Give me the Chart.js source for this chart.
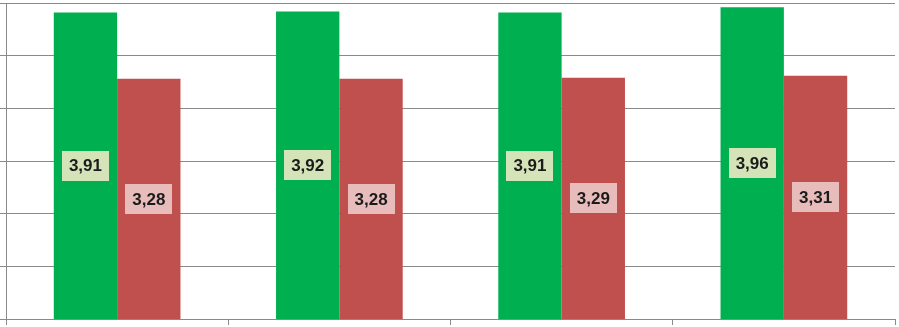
<!DOCTYPE html>
<html>
<head>
<meta charset="utf-8">
<script src="https://cdn.jsdelivr.net/npm/chart.js@4.4.1/dist/chart.umd.min.js"></script>
<style>
  html, body { margin: 0; padding: 0; background: #fff; }
  #wrap { width: 899px; height: 327px; }
</style>
</head>
<body>
<div id="wrap"><canvas id="barChart"></canvas></div>
<script>
const categories = ["1", "2", "3", "4"];
const greenValues = [3.91, 3.92, 3.91, 3.96];
const redValues = [3.28, 3.28, 3.29, 3.31];
const yTicks = { min: 1, max: 4, step: 0.5 };

// boxed value labels in the middle of the visible part of each bar
const boxLabels = {
  id: "boxLabels",
  afterDatasetsDraw(chart) {
    const ctx = chart.ctx;
    const bottom = chart.chartArea.bottom;
    ctx.save();
    ctx.font = "bold 17px 'Liberation Sans Narrow', 'Liberation Sans', sans-serif";
    ctx.textAlign = "center";
    ctx.textBaseline = "middle";
    chart.data.datasets.forEach(function (ds, i) {
      const meta = chart.getDatasetMeta(i);
      meta.data.forEach(function (bar, j) {
        const text = ds.data[j].toFixed(2).replace(".", ",");
        const cx = bar.x;
        const cy = (bar.y + Math.min(bar.base, bottom)) / 2;
        const w = ctx.measureText(text).width + 14;
        const h = 30;
        ctx.fillStyle = ds.labelBg;
        ctx.fillRect(Math.round(cx - w / 2), Math.round(cy - h / 2), Math.round(w), h);
        ctx.fillStyle = "#1b1b1b";
        ctx.fillText(text, cx, cy + 1);
      });
    });
    ctx.restore();
  }
};

const data = {
  labels: categories,
  datasets: [
    {
      label: "A",
      data: greenValues,
      backgroundColor: "#00b050",
      labelBg: "#d4e3b8",
      categoryPercentage: 0.57,
      barPercentage: 1.0,
    },
    {
      label: "B",
      data: redValues,
      backgroundColor: "#c0504d",
      labelBg: "#e8bcbb",
      categoryPercentage: 0.57,
      barPercentage: 1.0,
    },
  ],
};

const config = {
  type: "bar",
  data: data,
  options: {
    responsive: true,
    maintainAspectRatio: false,
    animation: false,
    layout: { padding: { top: 3, right: 4, bottom: 2, left: 0 } },
    plugins: {
      legend: { display: false },
      tooltip: { enabled: false },
    },
    scales: {
      x: {
        ticks: { display: false },
        grid: {
          drawOnChartArea: false,
          drawTicks: true,
          tickLength: 6,
          color: "#8a8a8a",
        },
        border: { color: "#8a8a8a", width: 1 },
      },
      y: {
        min: yTicks.min,
        max: yTicks.max,
        ticks: { display: false, stepSize: yTicks.step },
        grid: {
          drawTicks: true,
          tickLength: 6,
          color: "#8a8a8a",
          lineWidth: 1,
        },
        border: { color: "#8a8a8a", width: 1 },
      },
    },
  },
  plugins: [boxLabels],
};

new Chart(document.getElementById("barChart"), config);
</script>
</body>
</html>
